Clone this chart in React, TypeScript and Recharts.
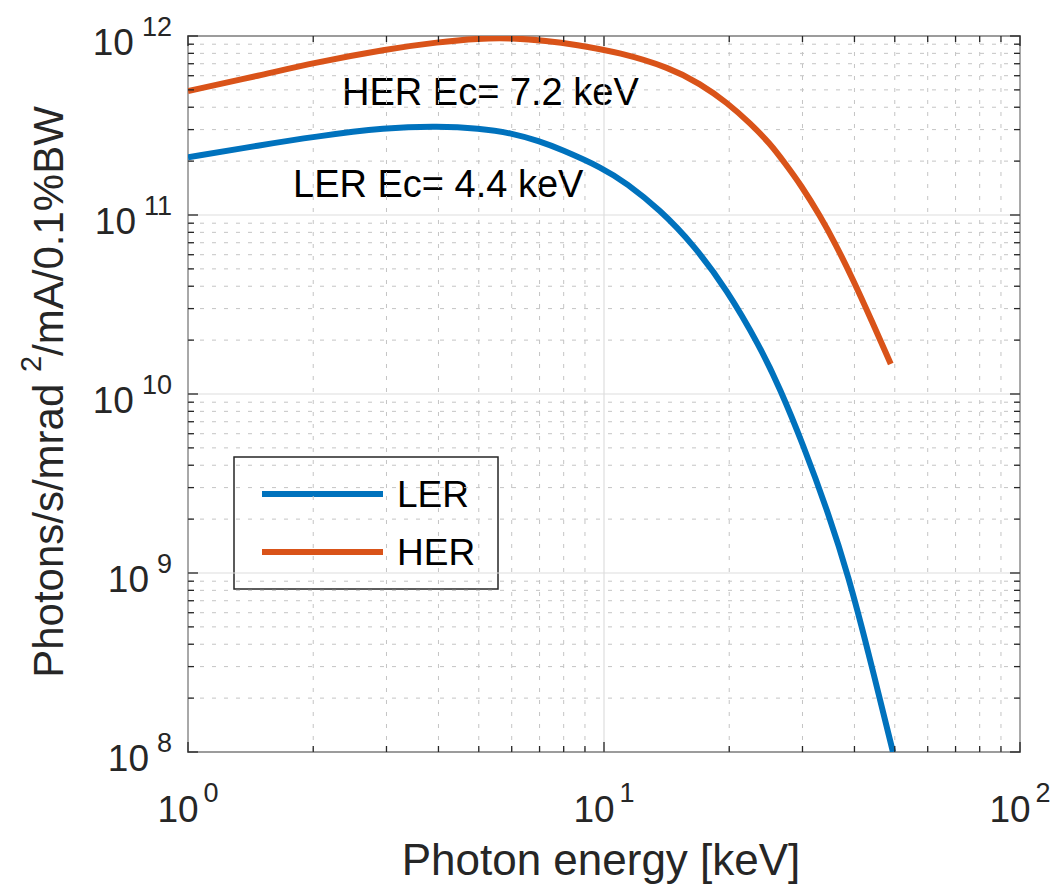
import React from 'react';
import { LineChart, Line, XAxis, YAxis, ReferenceLine, ReferenceArea, Customized } from 'recharts';

// ---- data ----
const lerEnergy = [1, 1.5, 2, 3, 4, 5, 6, 7, 7.84, 9.93, 11.3, 13.63, 16.39, 19.72, 23.71, 26.5, 30, 34.8, 38.7, 42.8, 49.5];
const lerFlux = [2.1e11, 2.46e11, 2.735e11, 3.08e11, 3.14e11, 3.05e11, 2.87e11, 2.58e11, 2.34e11, 1.83e11, 1.51e11, 1.07e11, 6.84e10, 3.85e10, 1.84e10, 1.07e10, 5.33e9, 2.09e9, 9.55e8, 3.94e8, 1.0e8];
const herEnergy = [1, 1.5, 2, 3, 4, 5, 6, 7.3, 8.5, 10.93, 14.41, 17, 19.79, 22.5, 25.06, 27.3, 29.76, 33.05, 36, 39.5, 44, 48.9];
const herFlux = [4.93e11, 6.05e11, 7.07e11, 8.45e11, 9.25e11, 9.7e11, 9.75e11, 9.4e11, 8.97e11, 8.09e11, 6.64e11, 5.43e11, 4.24e11, 3.24e11, 2.51e11, 1.93e11, 1.466e11, 9.91e10, 6.9e10, 4.46e10, 2.57e10, 1.47e10];

const seriesNames = ['LER', 'HER'];
const seriesColors = ['#0072BD', '#D95319'];
const annotationTexts = ['HER Ec= 7.2 keV', 'LER Ec= 4.4 keV'];

const xMajorTicks = [1, 10, 100];
const xMinorTicks = [2, 3, 4, 5, 6, 7, 8, 9, 20, 30, 40, 50, 60, 70, 80, 90];
const yMajorTicks = [1e8, 1e9, 1e10, 1e11, 1e12];
const yMinorTicks = [
  2e8, 3e8, 4e8, 5e8, 6e8, 7e8, 8e8, 9e8,
  2e9, 3e9, 4e9, 5e9, 6e9, 7e9, 8e9, 9e9,
  2e10, 3e10, 4e10, 5e10, 6e10, 7e10, 8e10, 9e10,
  2e11, 3e11, 4e11, 5e11, 6e11, 7e11, 8e11, 9e11,
];
const xLabel = 'Photon energy [keV]';
const yLabelMain = 'Photons/s/mrad ';
const yLabelSup = '2';
const yLabelRest = '/mA/0.1%BW';

const lerData = lerEnergy.map((x, i) => ({ x, y: lerFlux[i] }));
const herData = herEnergy.map((x, i) => ({ x, y: herFlux[i] }));

// ---- layout ----
const W = 1057;
const H = 888;
const PLOT_LEFT = 188;
const PLOT_TOP = 36;
const PLOT_RIGHT = 1020;
const PLOT_BOTTOM = 752;
const FONT = '"Liberation Sans", Arial, Helvetica, sans-serif';
const AXIS_COLOR = '#262626';

const XTick = (props: any) => {
  const { x, y, payload } = props;
  const v = payload.value;
  const major = xMajorTicks.includes(v);
  const len = major ? 10 : 6;
  const exp = Math.round(Math.log10(v));
  return (
    <g>
      <line x1={x} y1={y} x2={x} y2={y - len} stroke={AXIS_COLOR} strokeWidth={1.3} />
      <line x1={x} y1={PLOT_TOP} x2={x} y2={PLOT_TOP + len} stroke={AXIS_COLOR} strokeWidth={1.3} />
      {major && (
        <text x={x} y={y + 70} textAnchor="middle" fontFamily={FONT} fontSize={37} fill={AXIS_COLOR}>
          10
          <tspan dx={5} dy={-20} fontSize={27}>{exp}</tspan>
        </text>
      )}
    </g>
  );
};

const YTick = (props: any) => {
  const { x, y, payload } = props;
  const v = payload.value;
  const major = yMajorTicks.some((t) => Math.abs(t - v) / t < 1e-6);
  const len = major ? 10 : 6;
  const exp = Math.round(Math.log10(v));
  return (
    <g>
      <line x1={x} y1={y} x2={x + len} y2={y} stroke={AXIS_COLOR} strokeWidth={1.3} />
      <line x1={PLOT_RIGHT} y1={y} x2={PLOT_RIGHT - len} y2={y} stroke={AXIS_COLOR} strokeWidth={1.3} />
      {major && (
        <text x={x - 16} y={y + 19} textAnchor="end" fontFamily={FONT} fontSize={37} fill={AXIS_COLOR}>
          10
          <tspan dx={8} dy={-19} fontSize={27}>{exp}</tspan>
        </text>
      )}
    </g>
  );
};

const Overlay = () => (
  <g fontFamily={FONT}>
    {/* annotations */}
    <text x={342} y={105} fontSize={38} fill="#000">{annotationTexts[0]}</text>
    <text x={293} y={197} fontSize={38} fill="#000">{annotationTexts[1]}</text>
    {/* legend */}
    <rect x={234} y={457} width={264} height={132} fill="#fff" stroke={AXIS_COLOR} strokeWidth={1.5} />
    {seriesNames.map((n, i) => (
      <g key={n}>
        <line x1={262} x2={383} y1={494 + i * 58} y2={494 + i * 58} stroke={seriesColors[i]} strokeWidth={6} />
        <text x={397} y={507 + i * 58} fontSize={37} fill="#000">{n}</text>
      </g>
    ))}
    {/* axis labels */}
    <text x={(PLOT_LEFT + PLOT_RIGHT) / 2 - 3} y={875} textAnchor="middle" fontSize={44} fill={AXIS_COLOR}>{xLabel}</text>
    <text transform="translate(63,392) rotate(-90)" textAnchor="middle" fontSize={42} fill={AXIS_COLOR}>
      {yLabelMain}
      <tspan dy={-22} fontSize={29}>{yLabelSup}</tspan>
      <tspan dy={22}>{yLabelRest}</tspan>
    </text>
  </g>
);

export default function App() {
  return (
    <div style={{ position: 'absolute', left: 0, top: 0, width: W, height: H, background: '#fff' }}>
      <LineChart
        width={W}
        height={H}
        margin={{ top: PLOT_TOP, right: W - PLOT_RIGHT, left: 0, bottom: 0 }}
      >
        <XAxis
          dataKey="x"
          type="number"
          scale="log"
          domain={[1, 100]}
          allowDataOverflow
          ticks={[...xMajorTicks, ...xMinorTicks].sort((a, b) => a - b)}
          interval={0}
          tick={<XTick />}
          tickLine={false}
          axisLine={false}
          tickSize={0}
          tickMargin={0}
          height={H - PLOT_BOTTOM}
        />
        <YAxis
          type="number"
          scale="log"
          domain={[1e8, 1e12]}
          allowDataOverflow
          ticks={[...yMajorTicks, ...yMinorTicks].sort((a, b) => a - b)}
          interval={0}
          tick={<YTick />}
          tickLine={false}
          axisLine={false}
          tickSize={0}
          tickMargin={0}
          width={PLOT_LEFT}
        />
        {xMinorTicks.map((t) => (
          <ReferenceLine key={'xm' + t} x={t} stroke="#c4c4c4" strokeWidth={1} strokeDasharray="4 8" />
        ))}
        {yMinorTicks.map((t) => (
          <ReferenceLine key={'ym' + t} y={t} stroke="#c4c4c4" strokeWidth={1} strokeDasharray="4 8" />
        ))}
        {xMajorTicks.map((t) => (
          <ReferenceLine key={'xM' + t} x={t} stroke="#dedede" strokeWidth={1.2} />
        ))}
        {yMajorTicks.map((t) => (
          <ReferenceLine key={'yM' + t} y={t} stroke="#dedede" strokeWidth={1.2} />
        ))}
        <Line
          data={lerData}
          dataKey="y"
          name={seriesNames[0]}
          stroke={seriesColors[0]}
          strokeWidth={6}
          dot={false}
          type="basis"
          isAnimationActive={false}
        />
        <Line
          data={herData}
          dataKey="y"
          name={seriesNames[1]}
          stroke={seriesColors[1]}
          strokeWidth={6}
          dot={false}
          type="basis"
          isAnimationActive={false}
        />
        <ReferenceArea x1={1} x2={100} y1={1e8} y2={1e12} fill="none" stroke={AXIS_COLOR} strokeWidth={1.5} fillOpacity={0} />
        <Customized component={Overlay} />
      </LineChart>
    </div>
  );
}
